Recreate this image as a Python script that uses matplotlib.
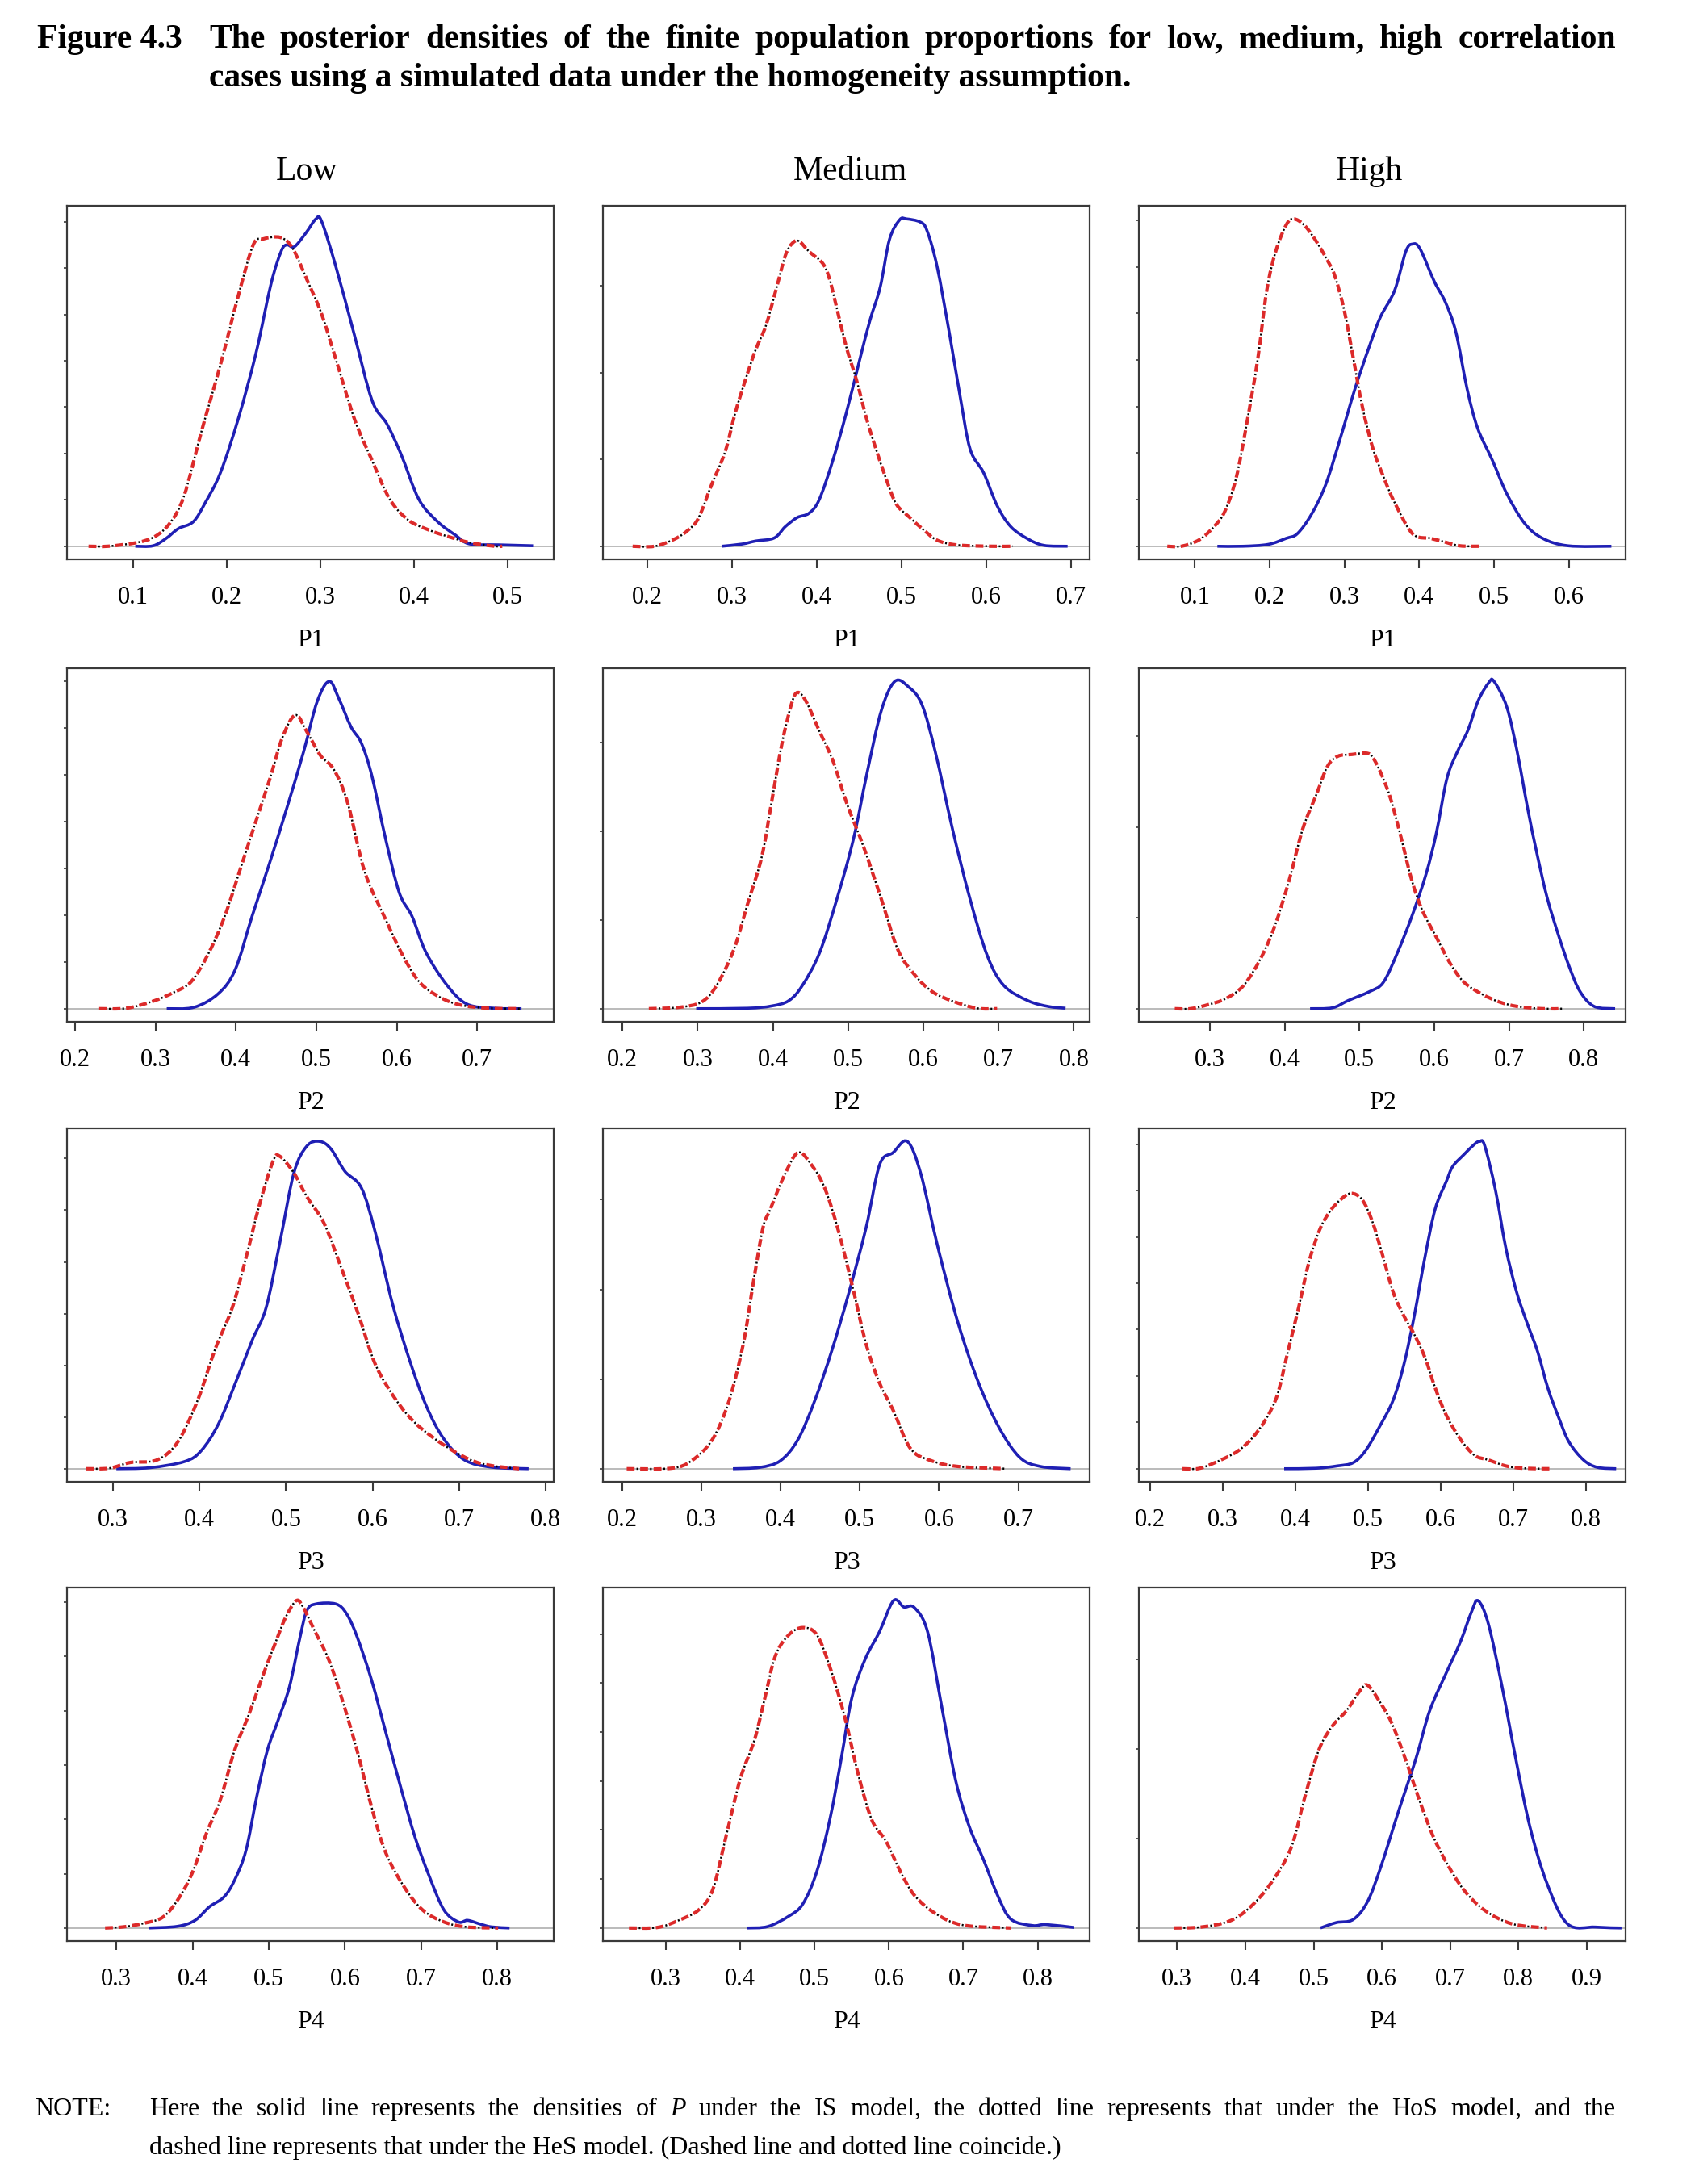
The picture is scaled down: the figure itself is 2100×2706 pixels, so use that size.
import matplotlib
matplotlib.use("Agg")
import matplotlib.pyplot as plt
from matplotlib.path import Path
from matplotlib.patches import PathPatch
from matplotlib.ticker import MultipleLocator, FormatStrFormatter, NullFormatter

W, H = 2100, 2706
plt.rcParams['font.family'] = ['Liberation Serif', 'DejaVu Serif']
plt.rcParams['lines.scale_dashes'] = False

# (x, density); "is" = solid IS model, "hos" = dashed/dotted HoS/HeS model
low_p1_is = [(0.102, 0), (0.121, 0.01), (0.135, 0.17), (0.148, 0.38), (0.164, 0.53), (0.177, 0.95), (0.193, 1.59),
             (0.212, 2.75), (0.231, 4.17), (0.247, 5.66), (0.258, 6.37), (0.264, 6.5), (0.272, 6.46), (0.284, 6.75),
             (0.295, 7.06), (0.301, 7.01), (0.316, 6.05), (0.336, 4.56), (0.355, 3.14), (0.371, 2.63), (0.386, 1.98),
             (0.405, 1.01), (0.425, 0.53), (0.444, 0.24), (0.459, 0.05), (0.490, 0.03), (0.527, 0.01)]
low_p1_hos = [(0.052, 0), (0.073, 0), (0.104, 0.08), (0.123, 0.21), (0.139, 0.50), (0.154, 1.08), (0.173, 2.50),
              (0.193, 3.92), (0.212, 5.40), (0.228, 6.50), (0.239, 6.63), (0.257, 6.66), (0.270, 6.43), (0.286, 5.72),
              (0.301, 5.01), (0.316, 4.05), (0.336, 2.75), (0.355, 1.85), (0.374, 1.01), (0.394, 0.56), (0.417, 0.34),
              (0.436, 0.21), (0.459, 0.08), (0.486, 0), (0.494, 0)]
med_p1_is = [(0.288, 0), (0.312, 0.05), (0.328, 0.12), (0.350, 0.19), (0.363, 0.45), (0.377, 0.66), (0.391, 0.76),
             (0.403, 1.07), (0.419, 1.97), (0.435, 3.07), (0.451, 4.31), (0.463, 5.21), (0.475, 5.97), (0.486, 7.07),
             (0.498, 7.52), (0.506, 7.54), (0.522, 7.47), (0.530, 7.28), (0.542, 6.45), (0.557, 4.86), (0.569, 3.48),
             (0.581, 2.24), (0.597, 1.69), (0.613, 0.93), (0.629, 0.45), (0.649, 0.17), (0.668, 0.02), (0.696, 0)]
med_p1_hos = [(0.183, 0), (0.209, 0), (0.233, 0.17), (0.249, 0.38), (0.261, 0.66), (0.276, 1.41), (0.292, 2.17),
              (0.304, 3.07), (0.316, 3.83), (0.328, 4.52), (0.340, 5.07), (0.352, 5.90), (0.363, 6.69), (0.371, 6.97),
              (0.379, 7.03), (0.391, 6.79), (0.407, 6.52), (0.415, 6.17), (0.423, 5.55), (0.435, 4.59), (0.447, 3.83),
              (0.459, 2.93), (0.470, 2.24), (0.482, 1.55), (0.494, 0.97), (0.510, 0.66), (0.526, 0.38), (0.542, 0.14),
              (0.565, 0.03), (0.605, 0), (0.631, 0)]
high_p1_is = [(0.130, 0), (0.164, 0), (0.198, 0.04), (0.222, 0.17), (0.237, 0.27), (0.256, 0.69), (0.275, 1.33),
              (0.295, 2.35), (0.314, 3.38), (0.333, 4.28), (0.348, 4.92), (0.367, 5.49), (0.382, 6.33), (0.391, 6.49),
              (0.401, 6.39), (0.420, 5.69), (0.435, 5.24), (0.449, 4.60), (0.464, 3.38), (0.478, 2.54), (0.498, 1.84),
              (0.517, 1.13), (0.541, 0.49), (0.565, 0.17), (0.599, 0.01), (0.657, 0)]
high_p1_hos = [(0.063, 0), (0.082, 0), (0.106, 0.14), (0.126, 0.43), (0.140, 0.75), (0.155, 1.46), (0.169, 2.61),
               (0.184, 4.02), (0.196, 5.49), (0.208, 6.33), (0.222, 6.90), (0.232, 7.03), (0.246, 6.90), (0.261, 6.58),
               (0.275, 6.20), (0.287, 5.81), (0.300, 5.04), (0.312, 4.02), (0.324, 2.99), (0.338, 2.10), (0.353, 1.46),
               (0.367, 0.94), (0.391, 0.27), (0.415, 0.17), (0.430, 0.11), (0.454, 0.01), (0.481, 0)]

low_p2_is = [(0.314, 0), (0.348, 0.03), (0.378, 0.32), (0.399, 0.83), (0.420, 1.97), (0.442, 3.12), (0.463, 4.27),
             (0.484, 5.48), (0.501, 6.56), (0.516, 6.99), (0.528, 6.62), (0.543, 6.02), (0.556, 5.67), (0.569, 4.97),
             (0.586, 3.63), (0.603, 2.48), (0.619, 1.97), (0.636, 1.21), (0.662, 0.51), (0.687, 0.10), (0.721, 0.01),
             (0.755, 0)]
low_p2_hos = [(0.230, 0), (0.264, 0.01), (0.297, 0.16), (0.323, 0.35), (0.344, 0.57), (0.365, 1.15), (0.386, 1.97),
              (0.408, 3.12), (0.425, 4.01), (0.442, 4.90), (0.458, 5.80), (0.474, 6.27), (0.488, 5.92), (0.505, 5.41),
              (0.522, 5.10), (0.539, 4.39), (0.560, 2.93), (0.586, 1.91), (0.607, 1.15), (0.628, 0.57), (0.653, 0.25),
              (0.679, 0.08), (0.713, 0.01), (0.755, 0)]
med_p2_is = [(0.298, 0), (0.366, 0.01), (0.398, 0.06), (0.421, 0.18), (0.439, 0.52), (0.462, 1.26), (0.485, 2.47),
             (0.507, 3.82), (0.525, 5.30), (0.544, 6.71), (0.562, 7.37), (0.580, 7.25), (0.598, 6.85), (0.616, 5.77),
             (0.639, 4.02), (0.662, 2.47), (0.685, 1.19), (0.707, 0.52), (0.739, 0.18), (0.766, 0.05), (0.789, 0.01)]
med_p2_hos = [(0.235, 0), (0.275, 0.03), (0.305, 0.15), (0.325, 0.52), (0.348, 1.33), (0.366, 2.34), (0.385, 3.41),
              (0.398, 4.63), (0.412, 5.97), (0.425, 6.88), (0.433, 7.12), (0.444, 6.92), (0.462, 6.24), (0.480, 5.57),
              (0.498, 4.63), (0.521, 3.62), (0.544, 2.47), (0.566, 1.33), (0.589, 0.75), (0.612, 0.38), (0.639, 0.17),
              (0.671, 0.01), (0.698, 0)]
high_p2_is = [(0.434, 0), (0.464, 0.02), (0.485, 0.18), (0.514, 0.38), (0.532, 0.58), (0.551, 1.24), (0.570, 2.03),
              (0.589, 2.96), (0.603, 3.88), (0.617, 5.07), (0.631, 5.66), (0.645, 6.13), (0.659, 6.79), (0.673, 7.18),
              (0.680, 7.21), (0.697, 6.65), (0.711, 5.66), (0.725, 4.41), (0.737, 3.45), (0.751, 2.45), (0.767, 1.58),
              (0.781, 0.91), (0.795, 0.38), (0.814, 0.05), (0.842, 0)]
high_p2_hos = [(0.253, 0), (0.274, 0), (0.298, 0.09), (0.321, 0.22), (0.345, 0.51), (0.368, 1.11), (0.387, 1.83),
               (0.406, 2.83), (0.424, 3.95), (0.443, 4.74), (0.457, 5.33), (0.471, 5.56), (0.490, 5.60), (0.509, 5.63),
               (0.518, 5.53), (0.530, 5.14), (0.542, 4.61), (0.556, 3.75), (0.570, 2.83), (0.584, 2.17), (0.603, 1.57),
               (0.622, 0.98), (0.640, 0.58), (0.664, 0.32), (0.687, 0.15), (0.711, 0.05), (0.744, 0), (0.772, 0)]

low_p3_is = [(0.304, 0), (0.343, 0.02), (0.383, 0.14), (0.402, 0.35), (0.422, 0.87), (0.442, 1.68), (0.461, 2.49),
             (0.477, 3.12), (0.493, 4.39), (0.509, 5.72), (0.524, 6.24), (0.539, 6.33), (0.552, 6.18), (0.568, 5.75),
             (0.587, 5.43), (0.603, 4.57), (0.623, 3.18), (0.643, 2.08), (0.662, 1.21), (0.682, 0.58), (0.706, 0.17),
             (0.737, 0.03), (0.780, 0)]
low_p3_hos = [(0.269, 0), (0.296, 0.01), (0.320, 0.12), (0.351, 0.17), (0.375, 0.52), (0.398, 1.33), (0.418, 2.31),
              (0.438, 3.12), (0.454, 4.10), (0.469, 5.09), (0.485, 5.95), (0.493, 6.04), (0.509, 5.72), (0.524, 5.26),
              (0.544, 4.74), (0.564, 3.87), (0.583, 3.01), (0.603, 2.02), (0.627, 1.33), (0.650, 0.87), (0.682, 0.46),
              (0.713, 0.17), (0.737, 0.06), (0.769, 0)]
med_p3_is = [(0.340, 0), (0.374, 0.03), (0.400, 0.18), (0.422, 0.65), (0.443, 1.51), (0.465, 2.65), (0.486, 3.91),
             (0.508, 5.38), (0.525, 6.78), (0.542, 7.05), (0.560, 7.30), (0.577, 6.58), (0.598, 4.98), (0.624, 3.25),
             (0.650, 1.91), (0.676, 0.91), (0.702, 0.25), (0.728, 0.05), (0.766, 0)]
med_p3_hos = [(0.206, 0), (0.262, 0.01), (0.288, 0.18), (0.314, 0.65), (0.335, 1.51), (0.353, 2.78), (0.366, 4.18),
              (0.378, 5.38), (0.387, 5.78), (0.404, 6.51), (0.422, 7.05), (0.439, 6.78), (0.456, 6.25), (0.473, 5.31),
              (0.491, 4.05), (0.508, 2.78), (0.525, 1.91), (0.542, 1.31), (0.564, 0.45), (0.590, 0.18), (0.624, 0.05),
              (0.684, 0)]
high_p3_is = [(0.385, 0), (0.429, 0.01), (0.458, 0.06), (0.480, 0.13), (0.497, 0.39), (0.516, 0.90), (0.535, 1.48),
              (0.550, 2.26), (0.564, 3.29), (0.579, 4.58), (0.593, 5.61), (0.608, 6.19), (0.617, 6.52), (0.632, 6.77),
              (0.647, 7.00), (0.654, 7.06), (0.661, 6.97), (0.676, 6.00), (0.690, 4.77), (0.705, 3.81), (0.719, 3.16),
              (0.734, 2.52), (0.748, 1.74), (0.763, 1.10), (0.777, 0.58), (0.797, 0.19), (0.816, 0.03), (0.842, 0)]
high_p3_hos = [(0.245, 0), (0.269, 0.01), (0.298, 0.19), (0.322, 0.39), (0.342, 0.68), (0.361, 1.10), (0.376, 1.61),
               (0.390, 2.52), (0.405, 3.48), (0.419, 4.45), (0.434, 5.16), (0.448, 5.55), (0.463, 5.81), (0.477, 5.94),
               (0.492, 5.81), (0.506, 5.35), (0.521, 4.58), (0.535, 3.81), (0.550, 3.29), (0.564, 2.90), (0.579, 2.39),
               (0.593, 1.74), (0.608, 1.16), (0.627, 0.65), (0.647, 0.29), (0.666, 0.19), (0.690, 0.06), (0.714, 0.01),
               (0.751, 0)]

low_p4_is = [(0.342, 0), (0.380, 0.03), (0.403, 0.14), (0.422, 0.39), (0.441, 0.57), (0.455, 0.88), (0.470, 1.43),
             (0.484, 2.41), (0.498, 3.27), (0.512, 3.82), (0.527, 4.44), (0.541, 5.36), (0.550, 5.85), (0.562, 5.97),
             (0.588, 5.97), (0.602, 5.79), (0.616, 5.36), (0.635, 4.56), (0.654, 3.58), (0.673, 2.60), (0.692, 1.67),
             (0.711, 0.94), (0.730, 0.33), (0.749, 0.11), (0.761, 0.14), (0.778, 0.07), (0.792, 0.02), (0.816, 0)]
low_p4_hos = [(0.285, 0), (0.309, 0.02), (0.337, 0.09), (0.361, 0.20), (0.380, 0.51), (0.399, 1.00), (0.418, 1.74),
              (0.436, 2.35), (0.455, 3.27), (0.474, 3.94), (0.493, 4.68), (0.508, 5.23), (0.522, 5.72), (0.536, 6.03),
              (0.545, 5.91), (0.560, 5.48), (0.579, 4.93), (0.598, 4.13), (0.617, 3.21), (0.636, 2.17), (0.654, 1.37),
              (0.678, 0.75), (0.702, 0.33), (0.730, 0.11), (0.759, 0.02), (0.801, 0)]
med_p4_is = [(0.409, 0), (0.437, 0.03), (0.465, 0.24), (0.484, 0.49), (0.503, 1.16), (0.521, 2.26), (0.536, 3.48),
             (0.550, 4.70), (0.568, 5.49), (0.587, 6.04), (0.606, 6.68), (0.620, 6.55), (0.634, 6.54), (0.652, 6.04),
             (0.671, 4.51), (0.690, 2.99), (0.708, 2.07), (0.727, 1.40), (0.746, 0.67), (0.764, 0.18), (0.793, 0.05),
             (0.811, 0.07), (0.849, 0.01)]
med_p4_hos = [(0.250, 0), (0.288, 0.01), (0.316, 0.15), (0.344, 0.37), (0.363, 0.79), (0.381, 1.89), (0.400, 3.05),
              (0.419, 3.84), (0.433, 4.70), (0.447, 5.55), (0.465, 5.98), (0.484, 6.13), (0.503, 5.98), (0.521, 5.30),
              (0.540, 4.33), (0.559, 3.11), (0.577, 2.20), (0.596, 1.77), (0.615, 1.16), (0.634, 0.67), (0.662, 0.30),
              (0.699, 0.06), (0.764, 0)]
high_p4_is = [(0.510, 0), (0.533, 0.12), (0.558, 0.19), (0.579, 0.59), (0.599, 1.39), (0.624, 2.59), (0.650, 3.79),
              (0.670, 4.85), (0.695, 5.72), (0.715, 6.39), (0.731, 7.05), (0.741, 7.31), (0.756, 6.79), (0.776, 5.39),
              (0.796, 3.79), (0.817, 2.25), (0.842, 0.99), (0.872, 0.09), (0.913, 0.02), (0.951, 0)]
high_p4_hos = [(0.295, 0), (0.335, 0.02), (0.376, 0.15), (0.406, 0.45), (0.437, 0.99), (0.467, 1.79), (0.487, 2.92),
               (0.508, 3.99), (0.528, 4.52), (0.548, 4.85), (0.569, 5.32), (0.579, 5.42), (0.594, 5.12), (0.614, 4.59),
               (0.634, 3.79), (0.655, 2.85), (0.675, 2.05), (0.695, 1.45), (0.720, 0.85), (0.751, 0.39), (0.791, 0.09),
               (0.842, 0)]

# x ranges of each panel, as drawn in the reference
low_xlims = [(0.029, 0.549), (0.190, 0.795), (0.247, 0.809), (0.235, 0.874)]
med_xlims = [(0.148, 0.722), (0.174, 0.821), (0.176, 0.790), (0.215, 0.870)]
high_xlims = [(0.025, 0.676), (0.205, 0.856), (0.185, 0.855), (0.244, 0.957)]

columns = ["Low", "Medium", "High"]
variables = ["P1", "P2", "P3", "P4"]
isCurves = {"Low": [low_p1_is, low_p2_is, low_p3_is, low_p4_is],
            "Medium": [med_p1_is, med_p2_is, med_p3_is, med_p4_is],
            "High": [high_p1_is, high_p2_is, high_p3_is, high_p4_is]}
hosCurves = {"Low": [low_p1_hos, low_p2_hos, low_p3_hos, low_p4_hos],
             "Medium": [med_p1_hos, med_p2_hos, med_p3_hos, med_p4_hos],
             "High": [high_p1_hos, high_p2_hos, high_p3_hos, high_p4_hos]}
xLimits = {"Low": low_xlims, "Medium": med_xlims, "High": high_xlims}

BLUE = '#1f1fb4'
RED = '#dc2a2a'
BOX = '#3a3a3a'

colLeft = [83, 747, 1411]
colTitleX = [380, 1053, 1696]
rowTop = [255, 828, 1398, 1967]
boxW, boxH = 603, 438

fig = plt.figure(figsize=(W / 100, H / 100), dpi=100)


def smoothPath(points):
    # cubic bezier pieces through the read points (catmull-rom tangents)
    verts = [points[0]]
    codes = [Path.MOVETO]
    n = len(points)
    for i in range(n - 1):
        p0 = points[max(i - 1, 0)]
        p1 = points[i]
        p2 = points[i + 1]
        p3 = points[min(i + 2, n - 1)]
        c1 = (p1[0] + (p2[0] - p0[0]) / 6, p1[1] + (p2[1] - p0[1]) / 6)
        c2 = (p2[0] - (p3[0] - p1[0]) / 6, p2[1] - (p3[1] - p1[1]) / 6)
        verts += [c1, c2, p2]
        codes += [Path.CURVE4] * 3
    return Path(verts, codes)


def drawPanel(ax, isCurve, hosCurve, xlim, label):
    ax.axhline(0, color='#b5b5b5', lw=1.3, zorder=1)
    ax.add_patch(PathPatch(smoothPath(isCurve), fill=False, edgecolor=BLUE, lw=2.6, zorder=2))
    hosPath = smoothPath(hosCurve)
    ax.add_patch(PathPatch(hosPath, fill=False, edgecolor=RED, lw=3.0, linestyle=(0, (7, 5)), zorder=3))
    ax.add_patch(PathPatch(hosPath, fill=False, edgecolor='black', lw=1.8, linestyle=(3.25, (1.5, 10.5)), zorder=4))

    top = max(max(p[1] for p in isCurve), max(p[1] for p in hosCurve))
    ax.set_xlim(*xlim)
    ax.set_ylim(-0.04 * top, 1.04 * top)
    ax.xaxis.set_major_locator(MultipleLocator(0.1))
    ax.xaxis.set_major_formatter(FormatStrFormatter('%.1f'))
    ax.yaxis.set_major_locator(MultipleLocator(1 if top < 7.1 else 2))
    ax.yaxis.set_major_formatter(NullFormatter())
    ax.tick_params(axis='x', direction='out', length=8, width=1.5, color=BOX, labelsize=22, pad=16)
    ax.tick_params(axis='y', direction='out', length=3, width=1.2, color=BOX)
    for s in ax.spines.values():
        s.set_color(BOX)
        s.set_linewidth(1.6)
    ax.set_xlabel(label, fontsize=23, labelpad=17)


for c, col in enumerate(columns):
    for r, var in enumerate(variables):
        rect = [colLeft[c] / W, 1 - (rowTop[r] + boxH) / H, boxW / W, boxH / H]
        ax = fig.add_axes(rect)
        drawPanel(ax, isCurves[col][r], hosCurves[col][r], xLimits[col][r], var)
    fig.text(colTitleX[c] / W, 1 - 223 / H, col, fontsize=30, ha='center', va='baseline')

renderer = fig.canvas.get_renderer()


def justifyLine(words, x0, x1, y, size, weight='normal', italic=()):
    # spread the words so the line runs from x0 to x1 (pixels)
    texts = []
    for w in words:
        t = fig.text(0, 1 - y / H, w, fontsize=size, fontweight=weight,
                     fontstyle='italic' if w in italic else 'normal', va='baseline')
        texts.append(t)
    widths = [t.get_window_extent(renderer).width for t in texts]
    gap = (x1 - x0 - sum(widths)) / (len(words) - 1)
    x = x0
    for t, wd in zip(texts, widths):
        t.set_x(x / W)
        x += wd + gap


fig.text(46 / W, 1 - 59 / H, "Figure 4.3", fontsize=30, fontweight='bold', va='baseline')
justifyLine("The posterior densities of the finite population proportions for low, medium, high correlation".split(),
            259, 2002, 59, 30, weight='bold')
fig.text(259 / W, 1 - 107 / H, "cases using a simulated data under the homogeneity assumption.",
         fontsize=30, fontweight='bold', va='baseline')

fig.text(43 / W, 1 - 2621 / H, "NOTE:", fontsize=23, va='baseline')
justifyLine(("Here the solid line represents the densities of P under the IS model, the dotted line "
             "represents that under the HoS model, and the").split(), 185, 2002, 2621, 23, italic=("P",))
fig.text(185 / W, 1 - 2669 / H,
         "dashed line represents that under the HeS model. (Dashed line and dotted line coincide.)",
         fontsize=23, va='baseline')

fig.savefig("out.png", dpi=100, facecolor='white')
